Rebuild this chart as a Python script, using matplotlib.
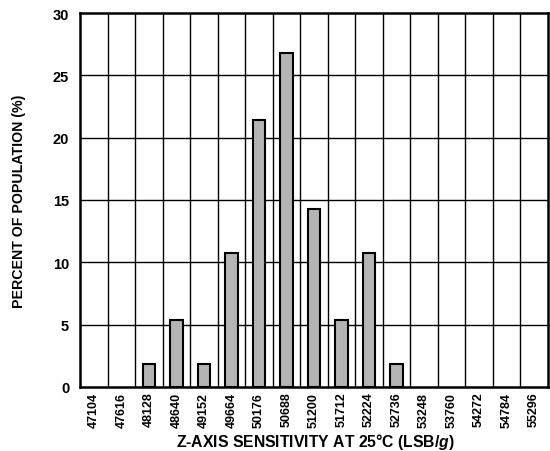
import numpy as np
import matplotlib
matplotlib.use("Agg")
import matplotlib.pyplot as plt

plt.rcParams["font.family"] = ["Liberation Sans", "DejaVu Sans"]
plt.rcParams["font.weight"] = "bold"
plt.rcParams["mathtext.fontset"] = "custom"
plt.rcParams["mathtext.it"] = "Liberation Sans:bold:italic"
plt.rcParams["mathtext.rm"] = "Liberation Sans:bold"

sensitivity = ["47104", "47616", "48128", "48640", "49152", "49664", "50176", "50688", "51200",
               "51712", "52224", "52736", "53248", "53760", "54272", "54784", "55296"]
percent = [0, 0, 1.8, 5.4, 1.8, 10.7, 21.4, 26.8, 14.3, 5.4, 10.7, 1.8, 0, 0, 0, 0, 0]

fig = plt.figure(figsize=(5.5, 4.52), dpi=100)
ax = fig.add_axes([0.146, 0.142, 0.850, 0.827])

x = np.arange(len(sensitivity))
vals = np.array(percent)
nz = vals > 0
ax.bar(x[nz], vals[nz], width=0.45, color="#b4b4b4", edgecolor="black", linewidth=1.5, zorder=3)

ax.set_xlim(-0.5, len(sensitivity) - 0.5)
ax.set_ylim(0, 30)
ax.set_yticks(np.arange(0, 31, 5))
ax.set_xticks(x)
ax.set_xticklabels(sensitivity, rotation=90, fontsize=9, fontweight="bold")
ax.tick_params(axis="x", length=0, pad=3.5)
ax.tick_params(axis="y", length=0, pad=8, labelsize=10.5)

for xv in np.arange(0.5, len(sensitivity) - 0.5, 1):
    ax.axvline(xv, color="black", linewidth=1.0, zorder=1)
for yv in np.arange(5, 30, 5):
    ax.axhline(yv, color="black", linewidth=1.0, zorder=1)

for s in ax.spines.values():
    s.set_linewidth(1.8)

fig.text(0.573, 1 - 442 / 452, "Z-AXIS SENSITIVITY AT 25°C (LSB/$\\mathit{g}$)",
         fontsize=11.3, fontweight="bold", ha="center", va="center")
ax.set_ylabel("PERCENT OF POPULATION (%)", fontsize=10.2, fontweight="bold", labelpad=19)

fig.savefig("out.png", dpi=100)
